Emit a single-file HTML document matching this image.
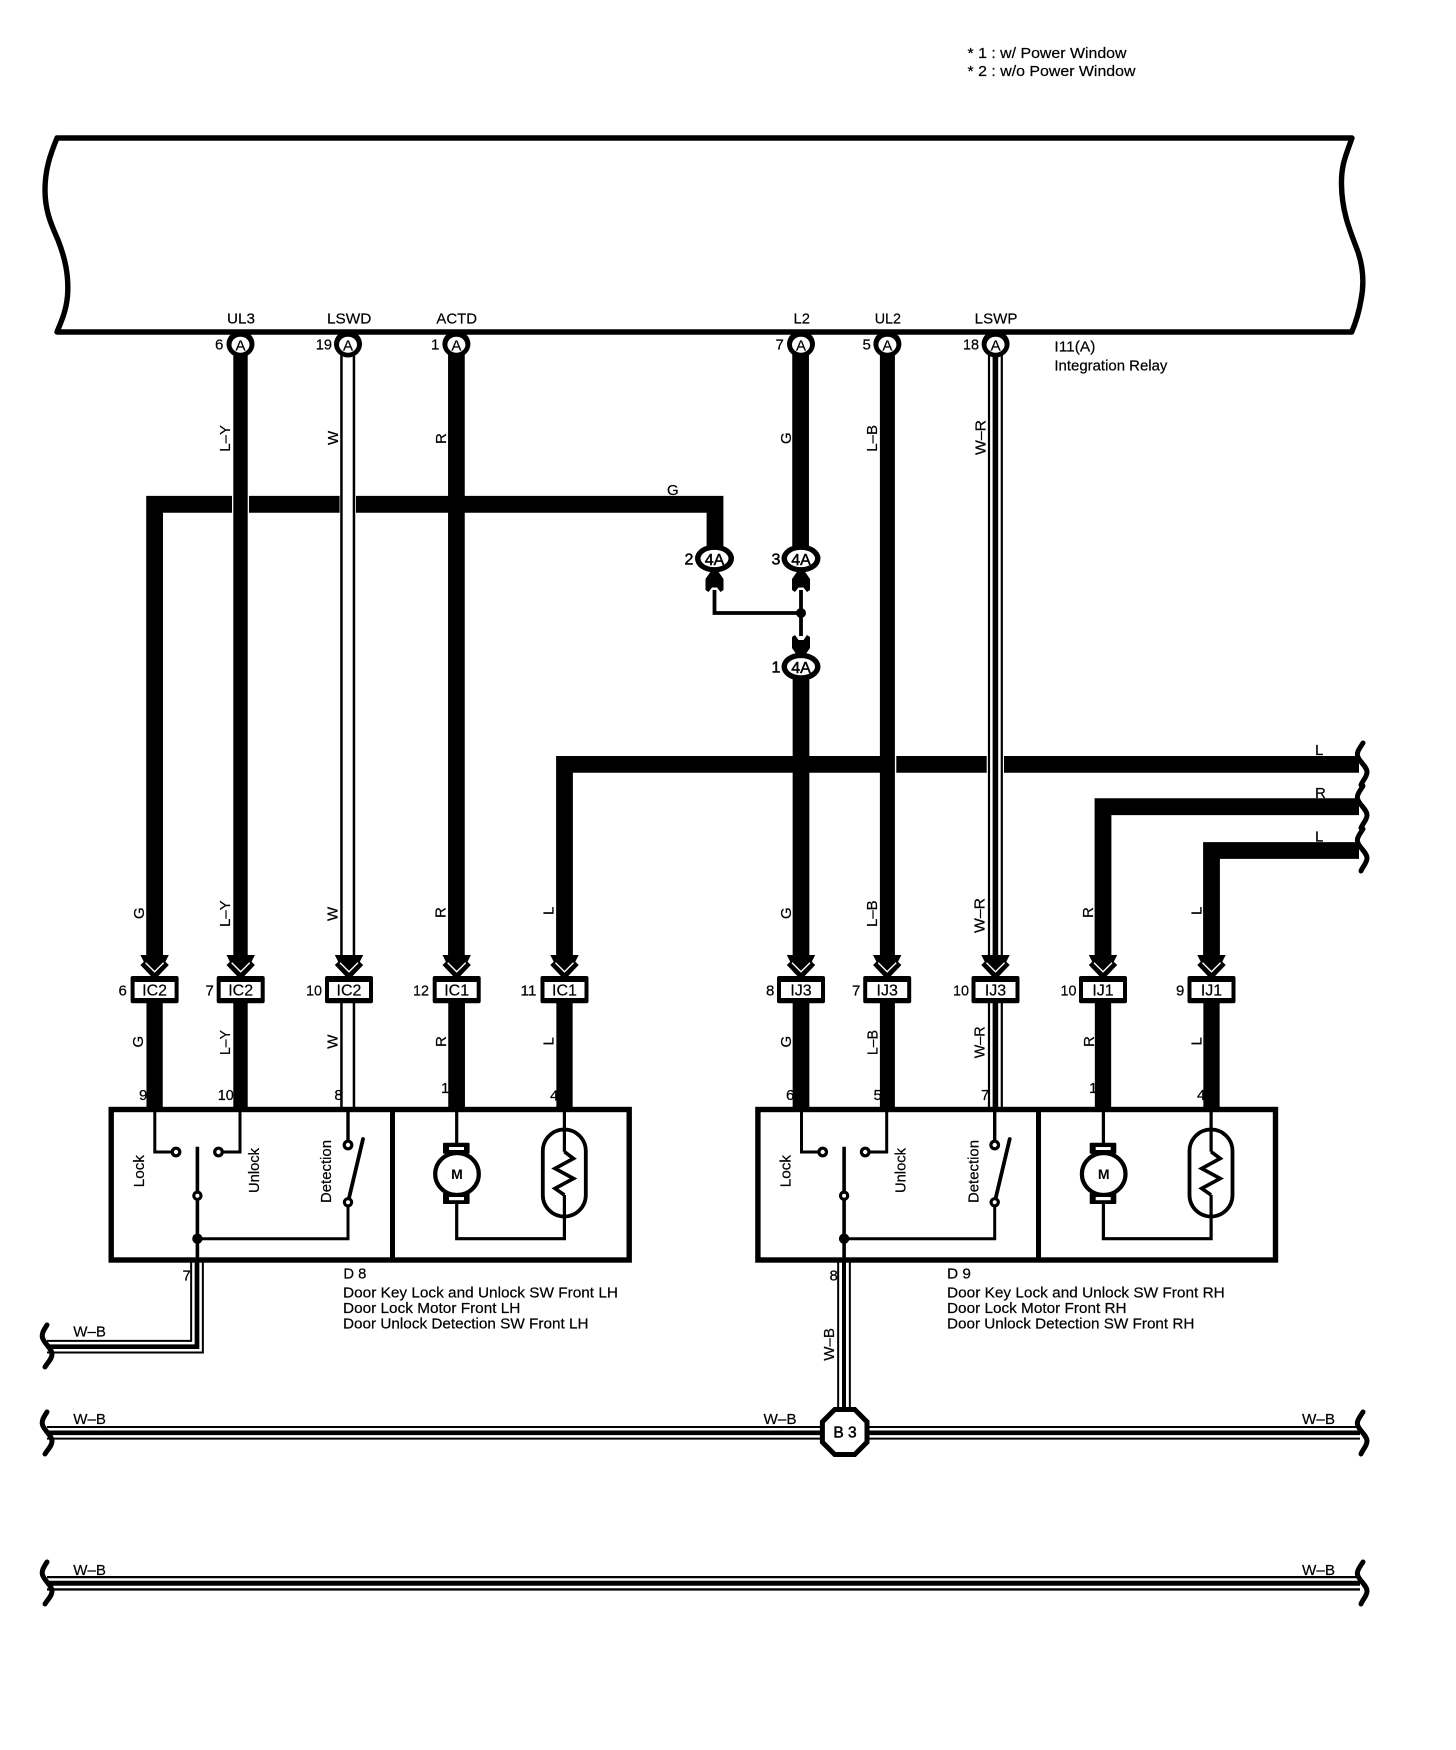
<!DOCTYPE html>
<html>
<head>
<meta charset="utf-8">
<style>
html,body{margin:0;padding:0;background:#fff}
svg{display:block}
text{font-family:"Liberation Sans",sans-serif;font-size:15px;fill:#000;stroke:#000;stroke-width:.2px}
.b{font-weight:bold}
.m{text-anchor:middle}
.w{fill:none;stroke:#000;stroke-linejoin:miter}
</style>
</head>
<body>
<svg xmlns="http://www.w3.org/2000/svg" width="1456" height="1750" viewBox="0 0 1456 1750">
<defs>
<g id="cn">
<path d="M-14.2,955 L14.2,955 L10.8,961.7 L14.2,965 L3.7,976 L-3.7,976 L-14.2,965 L-10.8,961.7 Z" fill="#000"/>
<path d="M-9,962.7 L0,971.7 L9,962.7" fill="none" stroke="#fff" stroke-width="1.4"/>
<rect x="-24" y="976" width="48" height="27.3" rx="2" fill="#000"/>
<rect x="-20" y="982" width="40" height="16" fill="#fff"/>
</g>
<g id="ring">
<ellipse cx="0" cy="0" rx="14" ry="13.5" fill="#000"/>
<ellipse cx="0" cy="0.7" rx="9" ry="8" fill="#fff"/>
</g>
<g id="ring4">
<ellipse cx="0" cy="0" rx="19.5" ry="14" fill="#000"/>
<ellipse cx="0" cy="0" rx="14" ry="8.6" fill="#fff"/>
</g>
<path id="sqr" d="M1363,-21 C1359,-15 1356,-11 1358,-7 C1360,-2 1367,3 1367,8 C1367,13 1363,16 1361,21" fill="none" stroke="#000" stroke-width="5" stroke-linecap="round"/>
<path id="sql" d="M47,-21 C43,-15 41,-11 43,-7 C45,-2 52,3 52,8 C52,13 48,16 45,21" fill="none" stroke="#000" stroke-width="5" stroke-linecap="round"/>
<g id="inner" fill="none" stroke="#000">
<path d="M154.8,1109 V1152 H176 M240,1109 V1152 H218.5" stroke-width="3"/>
<path d="M197.4,1146.7 V1260" stroke-width="3.6"/>
<path d="M197.4,1238.7 H348 V1202.3" stroke-width="3"/>
<path d="M348,1109 V1145" stroke-width="3.4"/>
<path d="M348,1202.3 L363,1139" stroke-width="3.8" stroke-linecap="round"/>
<g fill="#fff" stroke-width="3.2">
<circle cx="176" cy="1152" r="3.8"/>
<circle cx="218.5" cy="1152" r="3.8"/>
<circle cx="197.4" cy="1195.7" r="3.6"/>
<circle cx="348" cy="1145" r="3.8"/>
<circle cx="348" cy="1202.3" r="3.6"/>
</g>
<circle cx="197.4" cy="1238.7" r="5.2" fill="#000" stroke="none"/>
<path d="M456.7,1109 V1144 M456.7,1203 V1238.7 H564.4 V1195 M564.4,1109 V1151.7" stroke-width="3.2"/>
<ellipse cx="457" cy="1174" rx="21.8" ry="21" fill="#fff" stroke-width="4.2"/>
<rect x="443" y="1142.7" width="26.6" height="11" rx="1" fill="#000" stroke="none"/>
<rect x="449" y="1147" width="15" height="3" fill="#fff" stroke="none"/>
<rect x="443" y="1193" width="26.6" height="11" rx="1" fill="#000" stroke="none"/>
<rect x="449" y="1197" width="15" height="3.2" fill="#fff" stroke="none"/>
<rect x="542.8" y="1129.5" width="43" height="87" rx="21.5" ry="21.5" fill="none" stroke-width="3.8"/>
<path d="M564.4,1151.7 L573.5,1158.5 L555,1168.5 L573.5,1178.5 L555,1188.5 L564.4,1195" stroke-width="3.6" fill="none"/>
</g>
</defs>

<rect x="0" y="0" width="1456" height="1750" fill="#fff"/>

<!-- text that sits behind wires -->
<text x="139" y="1100">9</text>
<text x="217.8" y="1100" textLength="16" lengthAdjust="spacingAndGlyphs">10</text>
<text x="334.4" y="1100">8</text>
<text x="441" y="1093">1</text>
<text x="550" y="1100.5">4</text>
<text x="786" y="1100">6</text>
<text x="873.5" y="1100">5</text>
<text x="981" y="1100">7</text>
<text x="1089" y="1093">1</text>
<text x="1197" y="1100">4</text>

<!-- relay block -->
<path d="M57,138 H1352 C1346,155 1341,165 1341.5,185 C1342,215 1352,235 1358,252 C1364,270 1364,285 1361,300 C1359,312 1356,322 1351.7,332 H57 C61,322 66,312 67.5,296 C69,275 65,258 58,240 C52,226 45,212 45,190 C45,170 50,155 57,138 Z" fill="#fff" stroke="#000" stroke-width="5.4" stroke-linejoin="round"/>

<!-- horizontal bands -->
<path class="w" stroke-width="16.8" d="M715,546 V504.3 H154.6 V956"/>
<path class="w" stroke-width="16.8" d="M1359,764.4 H564.5 V956"/>
<path class="w" stroke-width="16.8" d="M1359,806.7 H1103 V956"/>
<path class="w" stroke-width="16.8" d="M1359,850.5 H1211.5 V956"/>
<!-- crossing gaps -->
<rect x="232" y="495.5" width="17" height="17.5" fill="#fff"/>
<rect x="339.6" y="495.5" width="16.4" height="17.5" fill="#fff"/>
<rect x="894.5" y="755.5" width="1.8" height="17.5" fill="#fff"/>
<rect x="986.7" y="755.5" width="17.3" height="17.5" fill="#fff"/>

<!-- vertical wires -->
<path class="w" stroke-width="14.4" d="M240.5,344 V956 M240.5,1003 V1108"/>
<path class="w" stroke-width="15" d="M347.7,344 V956 M347.7,1003 V1108"/>
<path d="M347.7,344 V958 M347.7,1003 V1108" fill="none" stroke="#fff" stroke-width="10"/>
<path class="w" stroke-width="16.7" d="M456.4,344 V956 M456.6,1003 V1108"/>
<path class="w" stroke-width="16.7" d="M800.6,344 V546 M801,666 V956 M801,1003 V1108"/>
<path class="w" stroke-width="15" d="M887.4,344 V956 M887.4,1003 V1108"/>
<path class="w" stroke-width="15" d="M995.4,344 V958 M995.4,1003 V1108"/>
<path d="M995.4,344 V958 M995.4,1003 V1108" fill="none" stroke="#fff" stroke-width="10.6"/>
<path class="w" stroke-width="5.6" d="M995.4,344 V958 M995.4,1003 V1108"/>
<path class="w" stroke-width="16.3" d="M154.6,1003 V1108 M564.5,1003 V1108 M1103,1003 V1108 M1211.5,1003 V1108"/>

<!-- connectors on relay -->
<use href="#ring" x="240.5" y="344"/>
<use href="#ring" x="348" y="344"/>
<use href="#ring" x="456.4" y="344"/>
<use href="#ring" x="801" y="344"/>
<use href="#ring" x="887.4" y="344"/>
<use href="#ring" x="995.6" y="344"/>
<text class="m" x="240.5" y="350.7">A</text>
<text class="m" x="348" y="350.7">A</text>
<text class="m" x="456.4" y="350.7">A</text>
<text class="m" x="801" y="350.7">A</text>
<text class="m" x="887.4" y="350.7">A</text>
<text class="m" x="995.6" y="350.7">A</text>

<!-- junction 4A -->
<path d="M714.5,590 V613 H801 M801,590 V636" fill="none" stroke="#000" stroke-width="3.8"/>
<circle cx="801" cy="613" r="5" fill="#000"/>
<path d="M711,571 L718,571 L723.5,579 V590 L720.5,592 L717,587.5 L712,587.5 L708.5,592 L705.5,590 V579 Z" fill="#000"/>
<path d="M797.5,571 L804.5,571 L810,579 V590 L807,592 L803.5,587.5 L798.5,587.5 L795,592 L792,590 V579 Z" fill="#000"/>
<path d="M792,637 L795,635 L798.5,640 L803.5,640 L807,635 L810,637 V648 L804.5,656 L797.5,656 L792,648 Z" fill="#000"/>
<use href="#ring4" x="714.5" y="558.5"/>
<use href="#ring4" x="801" y="558.5"/>
<use href="#ring4" x="801" y="666.7"/>
<text class="m" style="font-size:16px;stroke-width:.5px" x="714.5" y="565">4A</text>
<text class="m" style="font-size:16px;stroke-width:.5px" x="801" y="565">4A</text>
<text class="m" style="font-size:16px;stroke-width:.5px" x="801" y="673">4A</text>
<text style="font-size:16px;stroke-width:.5px" x="684.5" y="564.5">2</text>
<text style="font-size:16px;stroke-width:.5px" x="771.5" y="564.5">3</text>
<text style="font-size:16px;stroke-width:.5px" x="771.5" y="672.5">1</text>

<!-- inline connectors -->
<use href="#cn" x="154.6"/><use href="#cn" x="240.7"/><use href="#cn" x="349"/><use href="#cn" x="456.7"/><use href="#cn" x="564.5"/>
<use href="#cn" x="801"/><use href="#cn" x="887.2"/><use href="#cn" x="995.5"/><use href="#cn" x="1103"/><use href="#cn" x="1211.5"/>
<text class="m" x="154.6" y="995.7" style="font-size:16px">IC2</text>
<text class="m" x="240.7" y="995.7" style="font-size:16px">IC2</text>
<text class="m" x="349" y="995.7" style="font-size:16px">IC2</text>
<text class="m" x="456.7" y="995.7" style="font-size:16px">IC1</text>
<text class="m" x="564.5" y="995.7" style="font-size:16px">IC1</text>
<text class="m" x="801" y="995.7" style="font-size:16px">IJ3</text>
<text class="m" x="887.2" y="995.7" style="font-size:16px">IJ3</text>
<text class="m" x="995.5" y="995.7" style="font-size:16px">IJ3</text>
<text class="m" x="1103" y="995.7" style="font-size:16px">IJ1</text>
<text class="m" x="1211.5" y="995.7" style="font-size:16px">IJ1</text>
<text x="118.5" y="995.5">6</text>
<text x="205.5" y="995.5">7</text>
<text x="306" y="995.5" textLength="16" lengthAdjust="spacingAndGlyphs">10</text>
<text x="413" y="995.5" textLength="16" lengthAdjust="spacingAndGlyphs">12</text>
<text x="520.5" y="995.5" textLength="16" lengthAdjust="spacingAndGlyphs">11</text>
<text x="766" y="995.5">8</text>
<text x="852" y="995.5">7</text>
<text x="953" y="995.5" textLength="16" lengthAdjust="spacingAndGlyphs">10</text>
<text x="1060.5" y="995.5" textLength="16" lengthAdjust="spacingAndGlyphs">10</text>
<text x="1176" y="995.5">9</text>

<!-- W-B wires -->
<path class="w" stroke-width="13.7" d="M47,1346.7 H197 V1262"/>
<path d="M47,1346.7 H197 V1262" fill="none" stroke="#fff" stroke-width="9.7"/>
<path class="w" stroke-width="4.7" d="M47,1346.7 H197 V1262"/>
<path class="w" stroke-width="13.7" d="M844,1262 V1415"/>
<path d="M844,1262 V1415" fill="none" stroke="#fff" stroke-width="9.7"/>
<path class="w" stroke-width="4" d="M844,1262 V1415"/>
<path class="w" stroke-width="13.7" d="M47,1432.8 H1360"/>
<path d="M47,1432.8 H1360" fill="none" stroke="#fff" stroke-width="9.7"/>
<path class="w" stroke-width="4.7" d="M47,1432.8 H1360"/>
<path class="w" stroke-width="14.7" d="M47,1583.3 H1360"/>
<path d="M47,1583.3 H1360" fill="none" stroke="#fff" stroke-width="10"/>
<path class="w" stroke-width="5" d="M47,1583.3 H1360"/>

<use href="#sql" y="1346"/><use href="#sql" y="1433"/><use href="#sql" y="1583"/>
<use href="#sqr" y="764"/><use href="#sqr" y="807"/><use href="#sqr" y="850"/>
<use href="#sqr" y="1433"/><use href="#sqr" y="1583"/>

<!-- B3 -->
<polygon points="834.7,1409.5 854.7,1409.5 867,1421.8 867,1442.2 854.7,1454.5 834.7,1454.5 822.4,1442.2 822.4,1421.8" fill="#fff" stroke="#000" stroke-width="5"/>
<text class="m" x="845" y="1437.5" style="font-size:15.5px;stroke-width:.5px">B 3</text>

<!-- device boxes -->
<rect x="111.2" y="1109.5" width="518" height="150.5" fill="#fff" stroke="#000" stroke-width="5.4"/>
<path d="M392.5,1109 V1260" stroke="#000" stroke-width="5" fill="none"/>
<rect x="757.9" y="1109.5" width="517.6" height="150.5" fill="#fff" stroke="#000" stroke-width="5.4"/>
<path d="M1038.5,1109 V1260" stroke="#000" stroke-width="5" fill="none"/>
<use href="#inner"/>
<use href="#inner" x="646.7"/>
<text class="b m" x="457" y="1179" style="font-size:14px;stroke-width:0">M</text>
<text class="b m" x="1103.7" y="1179" style="font-size:14px;stroke-width:0">M</text>

<!-- rotated device labels -->
<text transform="rotate(-90 144 1187.3)" x="144" y="1187.3" textLength="32.3" lengthAdjust="spacingAndGlyphs">Lock</text>
<text transform="rotate(-90 259 1193)" x="259" y="1193" textLength="45" lengthAdjust="spacingAndGlyphs">Unlock</text>
<text transform="rotate(-90 331 1203)" x="331" y="1203" textLength="63" lengthAdjust="spacingAndGlyphs">Detection</text>
<text transform="rotate(-90 790.5 1187.3)" x="790.5" y="1187.3" textLength="32.3" lengthAdjust="spacingAndGlyphs">Lock</text>
<text transform="rotate(-90 905.4 1193)" x="905.4" y="1193" textLength="45" lengthAdjust="spacingAndGlyphs">Unlock</text>
<text transform="rotate(-90 978.5 1203)" x="978.5" y="1203" textLength="63" lengthAdjust="spacingAndGlyphs">Detection</text>

<!-- notes -->
<text x="967.5" y="58" textLength="159" lengthAdjust="spacingAndGlyphs">* 1 : w/ Power Window</text>
<text x="967.5" y="76" textLength="168" lengthAdjust="spacingAndGlyphs">* 2 : w/o Power Window</text>

<!-- pin names -->
<text x="227" y="323.7" textLength="28" lengthAdjust="spacingAndGlyphs">UL3</text>
<text x="327" y="323.7" textLength="44.4" lengthAdjust="spacingAndGlyphs">LSWD</text>
<text x="436.4" y="323.7" textLength="40.6" lengthAdjust="spacingAndGlyphs">ACTD</text>
<text x="793.5" y="323.7" textLength="16.5" lengthAdjust="spacingAndGlyphs">L2</text>
<text x="874.7" y="323.7" textLength="26.3" lengthAdjust="spacingAndGlyphs">UL2</text>
<text x="974.7" y="323.7" textLength="42.7" lengthAdjust="spacingAndGlyphs">LSWP</text>
<text x="215" y="349.5">6</text>
<text x="315.7" y="349.5" textLength="16.3" lengthAdjust="spacingAndGlyphs">19</text>
<text x="431" y="349.5">1</text>
<text x="775.5" y="349.5">7</text>
<text x="862.5" y="349.5">5</text>
<text x="963" y="349.5" textLength="16" lengthAdjust="spacingAndGlyphs">18</text>
<text x="1054.4" y="351.7" textLength="41" lengthAdjust="spacingAndGlyphs">I11(A)</text>
<text x="1054.4" y="370.7" textLength="113" lengthAdjust="spacingAndGlyphs">Integration Relay</text>

<!-- wire colour labels: upper -->
<text transform="rotate(-90 230 451.7)" x="230" y="451.7" textLength="26.7" lengthAdjust="spacingAndGlyphs">L–Y</text>
<text transform="rotate(-90 338 445)" x="338" y="445">W</text>
<text transform="rotate(-90 446 444)" x="446" y="444">R</text>
<text transform="rotate(-90 791 444)" x="791" y="444">G</text>
<text transform="rotate(-90 877 451.7)" x="877" y="451.7" textLength="26.7" lengthAdjust="spacingAndGlyphs">L–B</text>
<text transform="rotate(-90 985.4 455)" x="985.4" y="455" textLength="35" lengthAdjust="spacingAndGlyphs">W–R</text>
<text x="667" y="495">G</text>
<text x="1315" y="755">L</text>
<text x="1315" y="798">R</text>
<text x="1315" y="841.5">L</text>

<!-- above connectors -->
<text transform="rotate(-90 144 919)" x="144" y="919">G</text>
<text transform="rotate(-90 230 927)" x="230" y="927" textLength="26.7" lengthAdjust="spacingAndGlyphs">L–Y</text>
<text transform="rotate(-90 337.5 921)" x="337.5" y="921">W</text>
<text transform="rotate(-90 445.5 918)" x="445.5" y="918">R</text>
<text transform="rotate(-90 553.5 915)" x="553.5" y="915">L</text>
<text transform="rotate(-90 791 919)" x="791" y="919">G</text>
<text transform="rotate(-90 877 927)" x="877" y="927" textLength="26.7" lengthAdjust="spacingAndGlyphs">L–B</text>
<text transform="rotate(-90 984.5 933)" x="984.5" y="933" textLength="35" lengthAdjust="spacingAndGlyphs">W–R</text>
<text transform="rotate(-90 1093 918)" x="1093" y="918">R</text>
<text transform="rotate(-90 1201.5 915)" x="1201.5" y="915">L</text>

<!-- below connectors -->
<text transform="rotate(-90 143 1047.5)" x="143" y="1047.5">G</text>
<text transform="rotate(-90 230 1055)" x="230" y="1055" textLength="25" lengthAdjust="spacingAndGlyphs">L–Y</text>
<text transform="rotate(-90 337.5 1048.7)" x="337.5" y="1048.7">W</text>
<text transform="rotate(-90 446 1047)" x="446" y="1047">R</text>
<text transform="rotate(-90 553.5 1045.5)" x="553.5" y="1045.5">L</text>
<text transform="rotate(-90 791 1047.5)" x="791" y="1047.5">G</text>
<text transform="rotate(-90 877.5 1055)" x="877.5" y="1055" textLength="25" lengthAdjust="spacingAndGlyphs">L–B</text>
<text transform="rotate(-90 984.5 1058.3)" x="984.5" y="1058.3" textLength="32" lengthAdjust="spacingAndGlyphs">W–R</text>
<text transform="rotate(-90 1094 1047)" x="1094" y="1047">R</text>
<text transform="rotate(-90 1201.5 1045.5)" x="1201.5" y="1045.5">L</text>

<!-- device captions -->
<text x="182.5" y="1280.7">7</text>
<text x="829.5" y="1280.7">8</text>
<text x="343.4" y="1278.5" textLength="23" lengthAdjust="spacingAndGlyphs">D 8</text>
<text x="343" y="1297.7" textLength="275" lengthAdjust="spacingAndGlyphs">Door Key Lock and Unlock SW Front LH</text>
<text x="343" y="1313" textLength="177.4" lengthAdjust="spacingAndGlyphs">Door Lock Motor Front LH</text>
<text x="343" y="1328.3" textLength="245.5" lengthAdjust="spacingAndGlyphs">Door Unlock Detection SW Front LH</text>
<text x="947" y="1278.5" textLength="24" lengthAdjust="spacingAndGlyphs">D 9</text>
<text x="947" y="1297.7" textLength="277.8" lengthAdjust="spacingAndGlyphs">Door Key Lock and Unlock SW Front RH</text>
<text x="947" y="1313" textLength="179.6" lengthAdjust="spacingAndGlyphs">Door Lock Motor Front RH</text>
<text x="947" y="1328.3" textLength="247.4" lengthAdjust="spacingAndGlyphs">Door Unlock Detection SW Front RH</text>

<!-- W-B labels -->
<text transform="rotate(-90 834 1360.7)" x="834" y="1360.7" textLength="32.7" lengthAdjust="spacingAndGlyphs">W–B</text>
<text x="73.3" y="1336.7" textLength="32.7" lengthAdjust="spacingAndGlyphs">W–B</text>
<text x="73.3" y="1424" textLength="32.7" lengthAdjust="spacingAndGlyphs">W–B</text>
<text x="73.3" y="1575" textLength="32.7" lengthAdjust="spacingAndGlyphs">W–B</text>
<text x="763.5" y="1424" textLength="33" lengthAdjust="spacingAndGlyphs">W–B</text>
<text x="1302" y="1424" textLength="33" lengthAdjust="spacingAndGlyphs">W–B</text>
<text x="1302" y="1575" textLength="33" lengthAdjust="spacingAndGlyphs">W–B</text>
</svg>
</body>
</html>
